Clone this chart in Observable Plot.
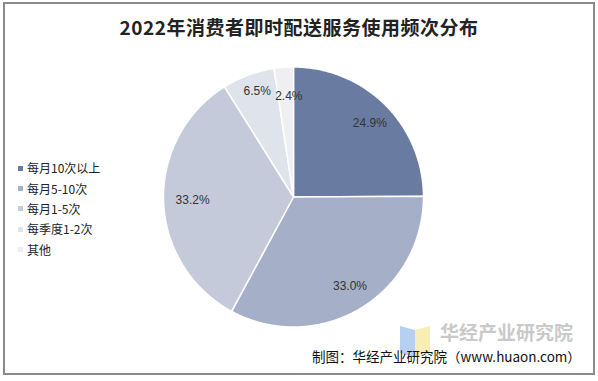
<!DOCTYPE html>
<html><head><meta charset="utf-8">
<script src="https://cdn.jsdelivr.net/npm/d3@7"></script>
<script src="https://cdn.jsdelivr.net/npm/@observablehq/plot@0.6"></script>
<style>
html,body{margin:0;padding:0;background:#fff;}
#wrap{position:relative;width:598px;height:381px;overflow:hidden;font-family:"Noto Sans CJK SC","Noto Sans",sans-serif;}
#frame{position:absolute;left:3px;top:2px;width:588px;height:369px;border:2px solid #8a8a8a;}
#title{position:absolute;left:0;top:13px;width:598px;text-align:center;font-size:19px;font-weight:bold;color:#222;line-height:28px;letter-spacing:0.5px;}
#chart{position:absolute;left:0;top:0;}
#legend{position:absolute;left:18px;top:158px;font-size:12px;color:#222;}
#legend .item{height:20.4px;line-height:20px;display:flex;align-items:center;}
#legend .sw{width:5px;height:5px;margin-right:4px;}
#wm{position:absolute;left:440px;top:322px;font-size:19px;line-height:19px;height:19px;font-weight:bold;color:#c9c9c9;}
#icon{position:absolute;left:398px;top:324px;}
#caption{position:absolute;left:312px;top:348px;font-size:13.5px;line-height:16px;color:#111;}
</style></head>
<body>
<div id="wrap">
  <div id="frame"></div>
  <svg id="icon" width="34" height="34">
    <polygon points="2,2 17,6 17,33 2,29" fill="#a9c8ef" opacity="0.85"></polygon>
    <polygon points="17,6 32,2 32,29 17,33" fill="#f7eaa8" opacity="0.85"></polygon>
  </svg>
  <div id="wm">华经产业研究院</div>
  <div id="chart"></div>
  <div id="title">2022年消费者即时配送服务使用频次分布</div>
  <div id="legend"></div>
  <div id="caption">制图：华经产业研究院（www.huaon.com）</div>
</div>
<script>
const categories = ["每月10次以上", "每月5-10次", "每月1-5次", "每季度1-2次", "其他"];
const values = [24.9, 33.0, 33.2, 6.5, 2.4];
const labels = ["24.9%", "33.0%", "33.2%", "6.5%", "2.4%"];
const colors = ["#6a7ba1", "#a5afc8", "#c5cadb", "#dfe3ec", "#efeff2"];

const pie = d3.pie().sort(null).value(d => d.value).startAngle(0).endAngle(2 * Math.PI);
const arcs = pie(categories.map((c, i) => ({category: c, value: values[i], label: labels[i]})));

// polygon points for each slice (angle measured clockwise from 12 o'clock)
const slicePts = [];
for (const a of arcs) {
  slicePts.push({category: a.data.category, x: 0, y: 0});
  const n = Math.max(2, Math.ceil((a.endAngle - a.startAngle) / 0.01));
  for (let k = 0; k <= n; k++) {
    const t = a.startAngle + (a.endAngle - a.startAngle) * k / n;
    slicePts.push({category: a.data.category, x: Math.sin(t), y: Math.cos(t)});
  }
}
const labelPts = arcs.map(a => {
  const m = (a.startAngle + a.endAngle) / 2;
  const rr = a.data.value < 5 ? 0.78 : a.data.value < 10 ? 0.87 : 0.8;
  return {label: a.data.label, x: rr * Math.sin(m), y: rr * Math.cos(m)};
});

const chart = Plot.plot({
  width: 598, height: 381,
  margin: 0,
  x: {domain: [-1, 1], range: [163, 423], axis: null},
  y: {domain: [-1, 1], range: [326.5, 66.5], axis: null},
  color: {domain: categories, range: colors},
  style: {background: "transparent", fontFamily: "'Liberation Sans', Arial, sans-serif"},
  marks: [
    Plot.line(slicePts, {x: "x", y: "y", z: "category", fill: "category", stroke: "#ffffff", strokeWidth: 1.5, curve: "linear-closed", strokeLinejoin: "round"}),
    Plot.text(labelPts, {x: "x", y: "y", text: "label", fontSize: 12, fill: "#333333", dx: 3})
  ]
});
document.getElementById("chart").appendChild(chart);

const leg = document.getElementById("legend");
categories.forEach((c, i) => {
  const it = document.createElement("div");
  it.className = "item";
  it.innerHTML = `<span class="sw" style="background:${colors[i]}"></span><span>${c}</span>`;
  leg.appendChild(it);
});
</script>
</body></html>
